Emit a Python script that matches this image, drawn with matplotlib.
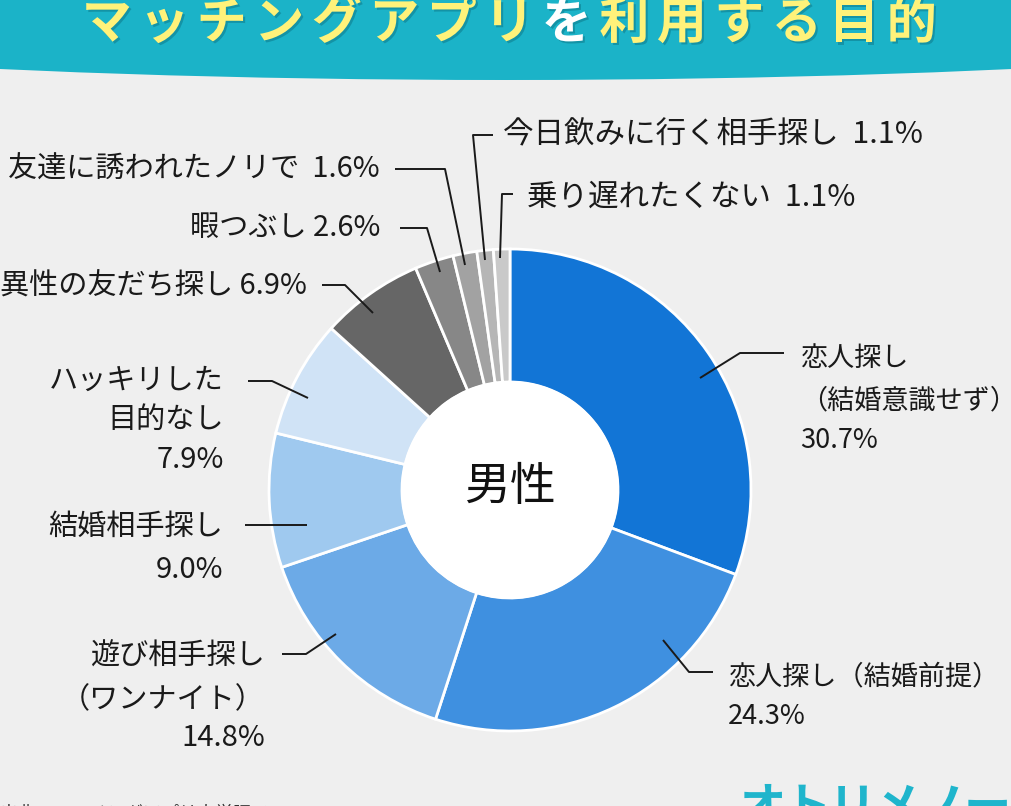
import matplotlib
matplotlib.use("Agg")
import matplotlib.pyplot as plt
from matplotlib.patches import Circle, Ellipse, Rectangle
import matplotlib.patheffects as pe

plt.rcParams['font.family'] = ['Noto Sans CJK JP', 'DejaVu Sans']

W, H = 1012, 806

# data
categories = ['恋人探し\n（結婚意識せず）', '恋人探し（結婚前提）', '遊び相手探し\n（ワンナイト）',
              '結婚相手探し', 'ハッキリした\n目的なし', '異性の友だち探し', '暇つぶし',
              '友達に誘われたノリで', '今日飲みに行く相手探し', '乗り遅れたくない']
values = [30.7, 24.3, 14.8, 9.0, 7.9, 6.9, 2.6, 1.6, 1.1, 1.1]
colors = ['#1275D6', '#3F90E0', '#6CAAE7', '#9FC9EF', '#D0E3F6',
          '#666666', '#878787', '#A2A2A2', '#B6B6B6', '#C9C9C9']
pct_sep = ['\n', '\n', '\n', '\n', '\n', ' ', ' ', '  ', '  ', '  ']
center_label = '男性'
title_text = 'マッチングアプリを利用する目的'
title_white = 'を'
source_text = '出典：マッチングアプリ大学調べ'
logo_text = 'オトリメノー'

# layout (pixel coords, y from top)
label_layout = [
    (800, 'left', [358, 401, 440], [(700, 378), (740, 353), (784, 353)], 19.5),
    (728, 'left', [677, 717], [(663, 640), (689, 672), (713, 672)], 19.5),
    (265, 'right', [657, 700, 738], [(336, 634), (306, 654), (282, 654)], 21),
    (223, 'right', [527, 570], [(307, 525), (245, 525)], 21),
    (224, 'right', [381, 420, 460], [(308, 398), (272, 381), (248, 381)], 21),
    (307, 'right', [287], [(373, 313), (345, 285), (322, 285)], 21),
    (380, 'right', [228], [(440, 272), (427, 228), (400, 228)], 21),
    (380, 'right', [170], [(465, 265), (445, 169), (395, 169)], 21),
    (503, 'left', [135], [(485, 260), (473, 135), (493, 135)], 22),
    (527, 'left', [197], [(500, 258), (502, 194), (513, 194)], 22),
]

def Y(y):
    return H - y

fig = plt.figure(figsize=(W / 100, H / 100), dpi=100)
fig.patch.set_facecolor('#EFEFEF')
ax = fig.add_axes([0, 0, 1, 1])
ax.set_facecolor('#EFEFEF')

cx, cy, R, r_in = 510, 490, 241, 108
ax.pie(values, colors=colors, startangle=90, counterclock=False,
       radius=R, center=(cx, Y(cy)), frame=True,
       wedgeprops=dict(width=R - r_in, edgecolor='white', linewidth=2))
ax.add_patch(Circle((cx, Y(cy)), r_in + 1, facecolor='white', edgecolor='none', zorder=3))
ax.text(cx, Y(cy - 3), center_label, fontsize=33, ha='center', va='center', color='#111111', zorder=4)

# labels and leaders
for name, v, sep, (lx, ha, ys, pts, fs) in zip(categories, values, pct_sep, label_layout):
    lines = (name + sep + f'{v:.1f}%').split('\n')
    for line, ly in zip(lines, ys):
        ax.text(lx, Y(ly), line, fontsize=fs, ha=ha, va='center', color='#1A1A1A')
    ax.plot([p[0] for p in pts], [Y(p[1]) for p in pts], color='#1A1A1A', lw=1.4,
            solid_capstyle='butt', zorder=5)

# title banner
ax.add_patch(Ellipse((W / 2, Y(0)), 2000, 160, facecolor='#1BB3C8', edgecolor='none', zorder=6))
ax.add_patch(Rectangle((0, Y(40)), W, 40, facecolor='#1BB3C8', edgecolor='none', zorder=6))

# title, one char at a time for the wide tracking
shadow = [pe.withSimplePatchShadow(offset=(1.5, -1.5), shadow_rgbFace='#0E7F90', alpha=0.6)]
pitch = 57.5
x0 = 78 + pitch / 2
for i, ch in enumerate(title_text):
    c = '#FFFFFF' if ch == title_white else '#FFF27A'
    ax.text(x0 + i * pitch, Y(24), ch, fontsize=36, fontweight='bold', color=c,
            ha='center', va='center', zorder=7, path_effects=shadow)

# footer bits (cut off at the bottom)
ax.text(0, Y(814), source_text, fontsize=13, ha='left', va='center', color='#333333')
for i, ch in enumerate(logo_text):
    ax.text(762 + i * 45, Y(784), ch, fontsize=34, fontweight='bold', ha='center', va='top',
            color='#1FB5CC')

ax.set_xlim(0, W)
ax.set_ylim(0, H)
ax.set_aspect('auto')
ax.set_axis_off()

fig.savefig('out.png', dpi=100, facecolor=fig.get_facecolor())
